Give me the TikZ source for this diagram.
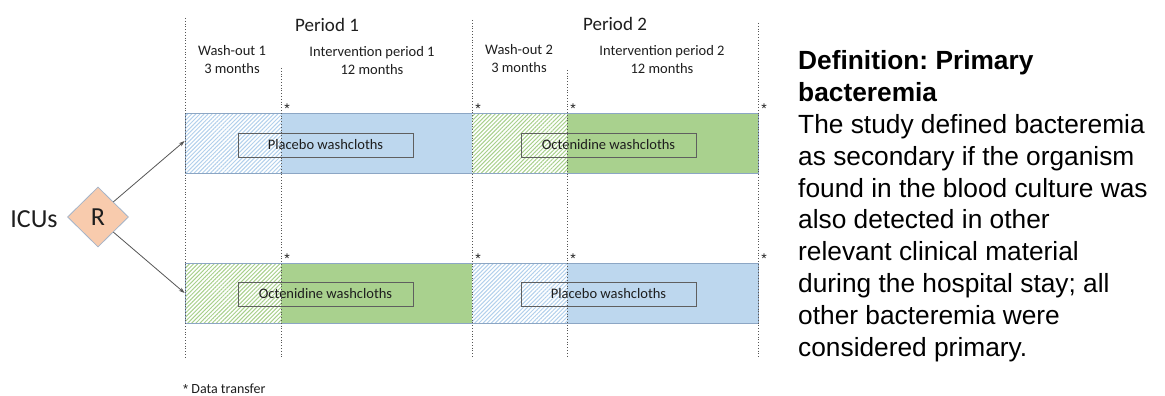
\documentclass[tikz,border=0pt]{standalone}
\usepackage{fontspec}
\setmainfont{Carlito}
\newfontfamily\arialf{Liberation Sans}
\usetikzlibrary{shapes.geometric,arrows.meta,patterns.meta}
\definecolor{bluefill}{RGB}{189,215,238}
\definecolor{greenfill}{RGB}{169,209,142}
\definecolor{bluehatch}{RGB}{178,208,236}
\definecolor{greenhatch}{RGB}{168,208,140}
\definecolor{barborder}{RGB}{140,166,196}
\definecolor{peach}{RGB}{248,203,173}
\definecolor{diamondborder}{RGB}{165,180,200}
\definecolor{dotcol}{RGB}{85,85,85}
\definecolor{boxcol}{RGB}{95,95,95}
\definecolor{txtcol}{RGB}{30,30,30}
\frenchspacing
\begin{document}
\begin{tikzpicture}[x=1pt,y=-1pt,
  bar/.style={draw=barborder,line width=0.8pt,minimum width=573pt,minimum height=60pt,inner sep=0pt},
  washbox/.style={draw=boxcol,line width=0.9pt,minimum width=175pt,minimum height=24pt,inner sep=0pt,
    font=\fontsize{14.5}{17}\selectfont,text=txtcol},
  bluehatchfill/.style={pattern={Lines[angle=45,distance=2.9pt,line width=1pt]},pattern color=bluehatch},
  greenhatchfill/.style={pattern={Lines[angle=45,distance=2.9pt,line width=1pt]},pattern color=greenhatch},
  period/.style={anchor=base,font=\fontsize{19}{22}\selectfont,text=txtcol,inner sep=0pt},
  phase/.style={anchor=base,inner sep=0pt,text=txtcol},
  star/.style={font=\arialf\fontsize{14}{16}\selectfont,text=txtcol,inner sep=0pt},
  divline/.style={draw=dotcol,line width=0.8pt,dash pattern=on 1pt off 1.8pt},
  arrowline/.style={draw=dotcol,line width=0.8pt,-{Stealth[length=6pt,width=4pt]}}
]
\useasboundingbox[fill=white] (0,0) rectangle (1165,396);

% top bar segments
\fill[white] (185,113) rectangle (281,173);
\fill[bluehatchfill] (185,113) rectangle (281,173);
\fill[bluefill] (281,113) rectangle (472,173);
\fill[white] (472,113) rectangle (567,173);
\fill[greenhatchfill] (472,113) rectangle (567,173);
\fill[greenfill] (567,113) rectangle (758,173);
\node[bar] (bar1) at (471.5,143) {};

% bottom bar segments
\fill[white] (185,263) rectangle (281,323);
\fill[greenhatchfill] (185,263) rectangle (281,323);
\fill[greenfill] (281,263) rectangle (472,323);
\fill[white] (472,263) rectangle (567,323);
\fill[bluehatchfill] (472,263) rectangle (567,323);
\fill[bluefill] (567,263) rectangle (758,323);
\node[bar] (bar2) at (471.5,293) {};

% washcloth boxes
\node[washbox] (p1) at (325.5,145) {Placebo washcloths};
\node[washbox] (o1) at (608.5,145) {Octenidine washcloths};
\node[washbox] (o2) at (325.5,294) {Octenidine washcloths};
\node[washbox] (p2) at (608.5,294) {Placebo washcloths};

% dotted division lines
\coordinate (d1t) at (185,18);  \coordinate (d1b) at (185,357);
\coordinate (d2t) at (281,68);  \coordinate (d2b) at (281,357);
\coordinate (d3t) at (472,20);  \coordinate (d3b) at (472,357);
\coordinate (d4t) at (567,70);  \coordinate (d4b) at (567,357);
\coordinate (d5t) at (758,23);  \coordinate (d5b) at (758,357);
\draw[divline] (d1t) -- (d1b);
\draw[divline] (d2t) -- (d2b);
\draw[divline] (d3t) -- (d3b);
\draw[divline] (d4t) -- (d4b);
\draw[divline] (d5t) -- (d5b);

% headings
\node[period] (per1) at (327,32) {Period 1};
\node[period] (per2) at (615,31) {Period 2};
\node[phase] (wo1) at (232,56) {\parbox[t]{120pt}{\centering\fontsize{14.5}{17.5}\selectfont Wash-out 1\\3 months}};
\node[phase] (ip1) at (372,57) {\parbox[t]{160pt}{\centering\fontsize{14.5}{17.5}\selectfont Intervention period 1\\12 months}};
\node[phase] (wo2) at (519,55) {\parbox[t]{120pt}{\centering\fontsize{14.5}{17.5}\selectfont Wash-out 2\\3 months}};
\node[phase] (ip2) at (662,56) {\parbox[t]{160pt}{\centering\fontsize{14.5}{17.5}\selectfont Intervention period 2\\12 months}};

% asterisks
\node[star] (s1) at (287,109) {*};
\node[star] (s2) at (478,109) {*};
\node[star] (s3) at (573,109) {*};
\node[star] (s4) at (764,109) {*};
\node[star] (s5) at (287,259) {*};
\node[star] (s6) at (478,259) {*};
\node[star] (s7) at (573,259) {*};
\node[star] (s8) at (764,259) {*};

% randomisation
\node[anchor=base,font=\fontsize{26}{30}\selectfont,text=txtcol,inner sep=0pt] (icu) at (34,227) {ICUs};
\node[diamond,fill=peach,draw=diamondborder,line width=0.8pt,minimum width=61pt,minimum height=60pt,inner sep=0pt,
  font=\fontsize{26}{30}\selectfont,text=txtcol] (R) at (98,217) {R};
\draw[arrowline] (R.north east) -- ([yshift=2pt]bar1.west);
\draw[arrowline] (R.south east) -- (bar2.west);

% footnote
\node[anchor=base west,font=\fontsize{14}{16}\selectfont,text=txtcol,inner sep=0pt] (dt) at (183,393) {{\arialf\fontsize{13}{16}\selectfont*} Data transfer};

% definition
\node[anchor=base west,inner sep=0pt] (def) at (798,70) {\parbox[t]{370pt}{\raggedright\arialf\fontsize{26.3}{31.8}\selectfont
\textbf{Definition: Primary}\\
\textbf{bacteremia}\\
The study defined bacteremia\\
as secondary if the organism\\
found in the blood culture was\\
also detected in other\\
relevant clinical material\\
during the hospital stay; all\\
other bacteremia were\\
considered primary.}};
\end{tikzpicture}
\end{document}
